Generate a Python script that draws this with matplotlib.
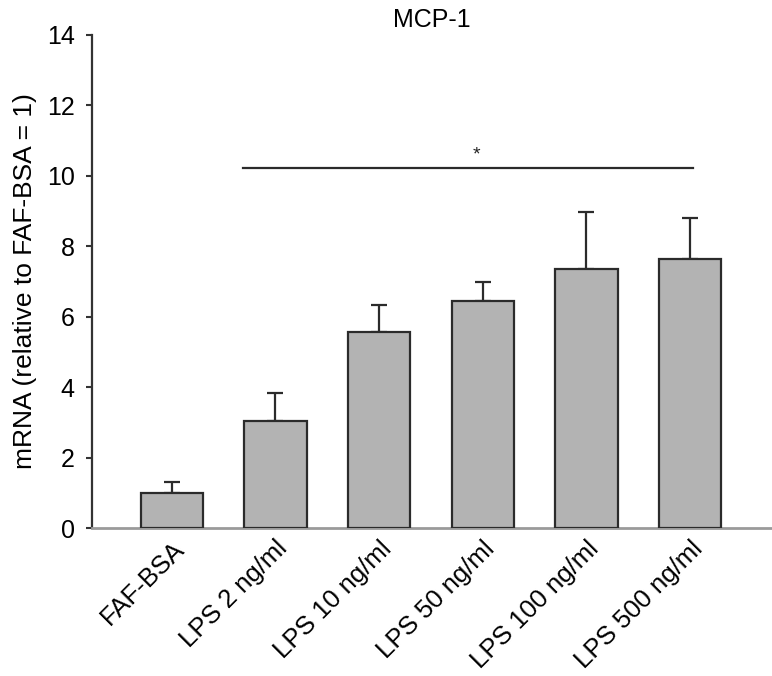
import matplotlib
matplotlib.use("Agg")
import matplotlib.pyplot as plt

categories = ["FAF-BSA", "LPS 2 ng/ml", "LPS 10 ng/ml", "LPS 50 ng/ml", "LPS 100 ng/ml", "LPS 500 ng/ml"]
means = [1.0, 3.03, 5.58, 6.44, 7.36, 7.64]
errors = [0.30, 0.80, 0.76, 0.55, 1.62, 1.16]
sig_start, sig_end, sig_y = 0.69, 5.03, 10.22
star_x, star_y = 2.94, 10.6

plt.rcParams['font.family'] = ['Liberation Sans', 'DejaVu Sans']

fig = plt.figure(figsize=(7.72, 6.76), dpi=100)
ax = fig.add_axes([92/772, 1-528/676, 1-92/772, (528-35)/676])

x = list(range(len(categories)))
ax.bar(x, means, width=0.6, color="#b3b3b3", edgecolor="#2b2b2b", linewidth=1.6, zorder=3)
ax.errorbar(x, means, yerr=[[0]*len(errors), errors], fmt="none", ecolor="#2b2b2b",
            elinewidth=1.6, capsize=5.5, capthick=1.6, zorder=2)

ax.plot([sig_start, sig_end], [sig_y, sig_y], color="#2b2b2b", linewidth=1.6)
ax.text(star_x, star_y, "*", ha="center", va="center", fontsize=14, color="#222")

ax.set_xlim(-0.77, 5.79)
ax.set_ylim(0, 14)
ax.set_yticks(range(0, 15, 2))
ax.tick_params(axis="y", labelsize=18, length=4.5, width=1.5, color="#333", pad=8)
ax.tick_params(axis="x", length=0, labelsize=18.5, pad=6)
ax.set_xticks(x)
ax.set_xticklabels(categories, rotation=45, ha="right", rotation_mode="anchor")

for s in ["top", "right"]:
    ax.spines[s].set_visible(False)
ax.spines["left"].set_linewidth(1.6)
ax.spines["left"].set_color("#333")
ax.spines["bottom"].set_linewidth(2)
ax.spines["bottom"].set_color("#9a9a9a")

ax.set_ylabel("mRNA (relative to FAF-BSA = 1)", fontsize=19, labelpad=7)
ax.set_title("MCP-1", fontsize=18, pad=6)

fig.savefig("out.png", dpi=100)
